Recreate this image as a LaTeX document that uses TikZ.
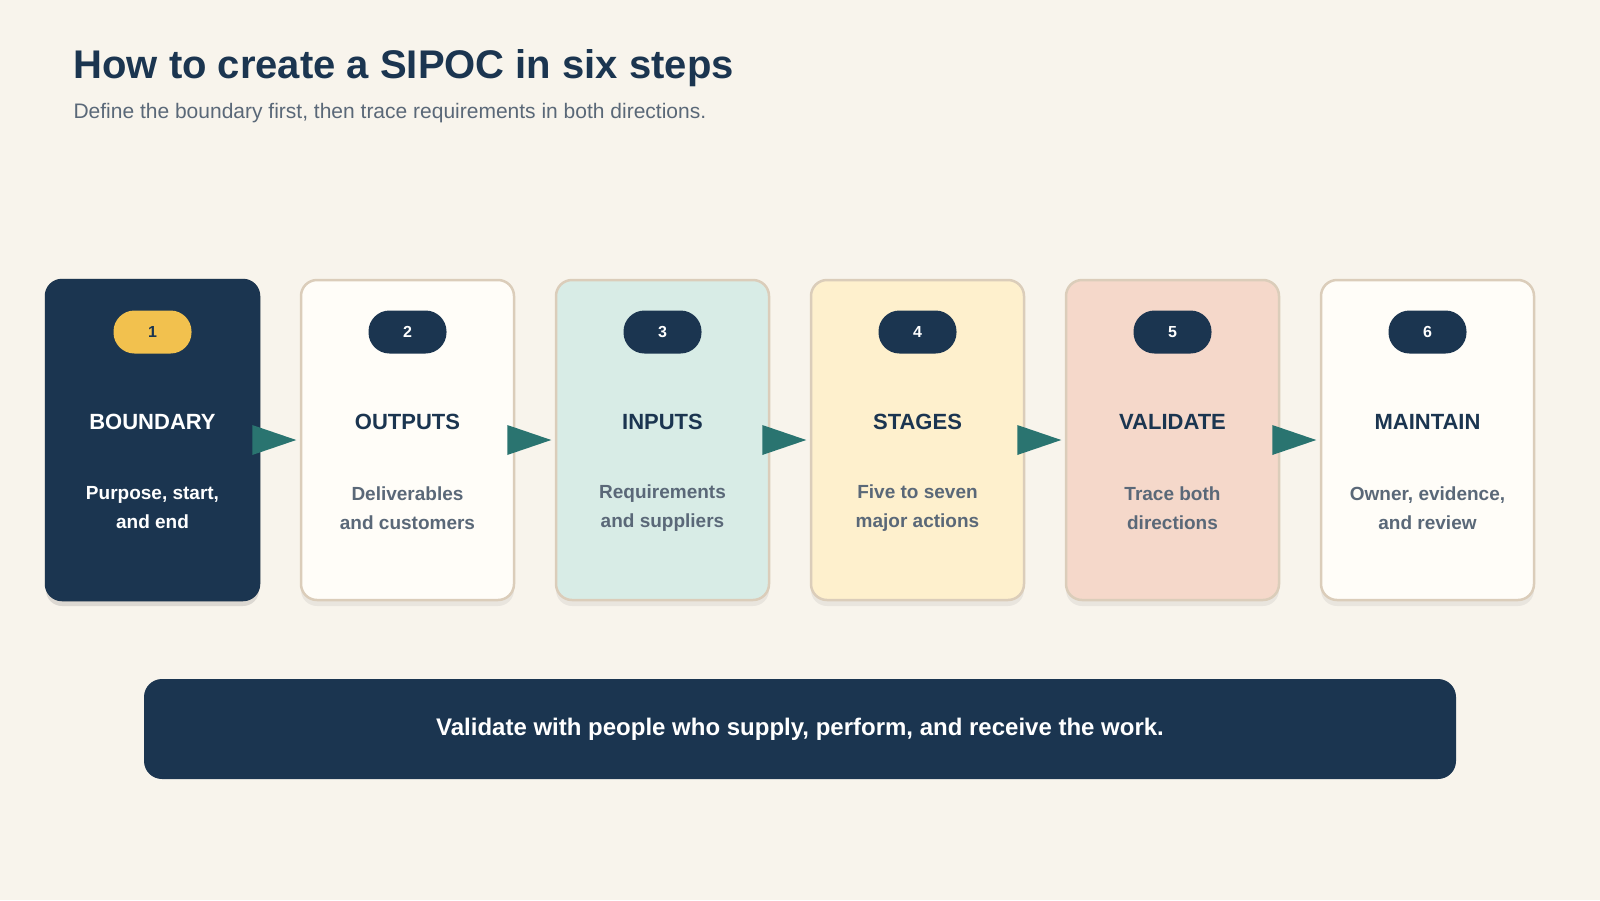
\documentclass[tikz,border=0pt]{standalone}
\usepackage{fontspec}
\setmainfont{Liberation Sans}
\usetikzlibrary{positioning,shadows}
\definecolor{bg}{HTML}{F8F4EC}
\definecolor{navy}{HTML}{1B3550}
\definecolor{gold}{HTML}{F2C14E}
\definecolor{teal}{HTML}{2A7470}
\definecolor{paper}{HTML}{FFFDF8}
\definecolor{mint}{HTML}{D8ECE6}
\definecolor{cream}{HTML}{FEF0CD}
\definecolor{peach}{HTML}{F5D8CA}
\definecolor{rim}{HTML}{DBCDBA}
\definecolor{slate}{HTML}{5A6878}
\begin{document}
\begin{tikzpicture}[x=1pt,y=-1pt]
    \tikzstyle{card}=[draw=rim,line width=2.5pt,rounded corners=16pt,minimum width=213pt,minimum height=320pt,inner sep=0pt,drop shadow={opacity=0.12,shadow xshift=0pt,shadow yshift=-6pt}]
    \tikzstyle{badge}=[rounded corners=21pt,minimum width=78pt,minimum height=43pt,fill=navy,text=white,font=\fontsize{16}{18}\selectfont\bfseries]
    \tikzstyle{head}=[font=\fontsize{22}{26}\selectfont\bfseries,text=navy]
    \tikzstyle{desc}=[font=\fontsize{19}{29}\selectfont\bfseries,text=slate,align=center]
    \tikzstyle{arrowtip}=[fill=teal]

    \fill[bg] (0,0) rectangle (1600,900);
    \useasboundingbox (0,0) rectangle (1600,900);

    % Title
    \node[anchor=base west,font=\fontsize{40}{48}\selectfont\bfseries,text=navy] (title) at (70,78) {How to create a SIPOC in six steps};
    \node[anchor=base west,font=\fontsize{21}{25}\selectfont,text=slate] (sub) at (70,118) {Define the boundary first, then trace requirements in both directions.};

    % Draw the step cards
    \foreach \i/\col/\name/\txt in {1/navy/BOUNDARY/{Purpose, start,\\and end},
                                    2/paper/OUTPUTS/{Deliverables\\and customers},
                                    3/mint/INPUTS/{Requirements\\and suppliers},
                                    4/cream/STAGES/{Five to seven\\major actions},
                                    5/peach/VALIDATE/{Trace both\\directions},
                                    6/paper/MAINTAIN/{Owner, evidence,\\and review}}
    {
        \node[card,fill=\col] (S-\i) at (152.5+255*\i-255,440) {};
        \node[badge] (B-\i) at (152.5+255*\i-255,332) {\i};
        \node[head] (H-\i) at (152.5+255*\i-255,422) {\name};
        \node[desc] (D-\i) at (152.5+255*\i-255,508) {\txt};
    }
    % First card stands out
    \path (S-1) node[card,fill=navy,draw=navy] {};
    \node[badge,fill=gold,text=navy] at (B-1) {1};
    \node[head,text=white] at (H-1) {BOUNDARY};
    \node[desc,text=white] at (D-1) {Purpose, start,\\and end};

    % Arrows between cards
    \foreach \i in {1,...,5}
        \fill[arrowtip] ([xshift=-8pt,yshift=-15pt]S-\i.east) -- ([xshift=36pt]S-\i.east) -- ([xshift=-8pt,yshift=15pt]S-\i.east) -- cycle;

    % Banner
    \node[fill=navy,rounded corners=18pt,minimum width=1312pt,minimum height=100pt,text=white,font=\fontsize{24}{28}\selectfont\bfseries] (note) at (800,729) {Validate with people who supply, perform, and receive the work.};
\end{tikzpicture}
\end{document}
